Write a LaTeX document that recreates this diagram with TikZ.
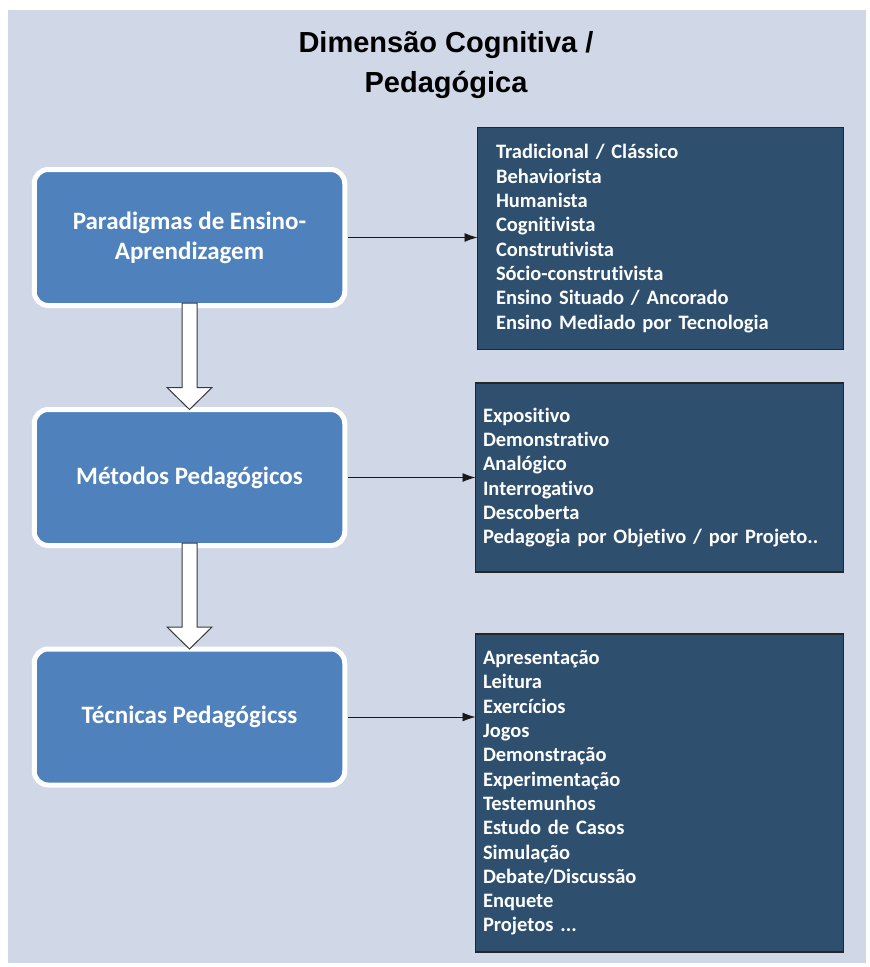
\documentclass[tikz,border=0pt]{standalone}
\usepackage{fontspec}
\setmainfont{Carlito}[Ligatures=NoCommon]
\newfontfamily\headfont{Liberation Sans}
\usetikzlibrary{arrows.meta,calc}
\definecolor{panelbg}{HTML}{D0D8E8}
\definecolor{stageblue}{HTML}{4F81BD}
\definecolor{listnavy}{HTML}{2E4F6E}
\definecolor{arrowedge}{HTML}{3A3A3A}

\begin{document}
\begin{tikzpicture}[x=1pt,y=-1pt,
  heading/.style={align=center, inner sep=0pt, text=black,
    font=\headfont\bfseries\fontsize{29}{40}\selectfont},
  stage/.style={rectangle, rounded corners=14pt, fill=stageblue, draw=white,
    line width=5pt, minimum width=310.5pt, minimum height=136pt,
    outer sep=0pt, inner sep=0pt, text=white, align=center,
    font=\bfseries\fontsize{25}{30}\selectfont},
  itemlist/.style={rectangle, fill=listnavy, draw=black!85, line width=1.2pt,
    outer sep=0pt, inner ysep=0pt, text=white, align=left,
    font=\bfseries\fontsize{20.5}{24.3}\selectfont},
  hollow/.style={fill=white, draw=arrowedge, line width=1pt, line join=miter},
  link/.style={draw=black!90, line width=0.9pt, -{Latex[length=13pt,width=9pt]}}
]
\useasboundingbox (0,0) rectangle (870,967);
% background panel
\fill[panelbg] (8,10) rectangle (866,963);

% heading (base anchor sits on the last line)
\node[heading, anchor=base] (title) at (446,92) {Dimensão Cognitiva /\\Pedagógica};

% the three stages
\node[stage] (p1) at (189.5,237.5) {Paradigmas de Ensino-\\Aprendizagem};
\node[stage] (p2) at (189.5,477.5) {Métodos Pedagógicos};
\node[stage] (p3) at (189.5,717) {Técnicas Pedagógicss};

% lists
\node[itemlist, minimum width=366pt, minimum height=222pt, inner xsep=18.5pt,
  text width=329pt] (l1) at (660.5,238.5)
  {Tradicional / Clássico\\Behaviorista\\Humanista\\Cognitivista\\Construtivista\\Sócio-construtivista\\Ensino Situado / Ancorado\\Ensino Mediado por Tecnologia};
\node[itemlist, minimum width=368pt, minimum height=189pt, inner xsep=7.5pt,
  text width=353pt] (l2) at (659.5,477.5)
  {Expositivo\\Demonstrativo\\Analógico\\Interrogativo\\Descoberta\\Pedagogia por Objetivo / por Projeto..};
\node[itemlist, minimum width=368pt, minimum height=318pt, inner xsep=7.5pt,
  text width=353pt] (l3) at (659.5,793)
  {Apresentação\\Leitura\\Exercícios\\Jogos\\Demonstração\\Experimentação\\Testemunhos\\Estudo de Casos\\Simulação\\Debate/Discussão\\Enquete\\Projetos ...};

% hollow block arrows between stages
\coordinate (h1) at ($(p1.south)+(0,-2.5)$);
\draw[hollow] ($(h1)+(-7.5,0)$) -- ($(p2.north)+(-7.5,-22)$) -- ($(p2.north)+(-22.5,-22)$)
  -- (p2.north) -- ($(p2.north)+(22.5,-22)$) -- ($(p2.north)+(7.5,-22)$)
  -- ($(h1)+(7.5,0)$) -- cycle;
\coordinate (h2) at ($(p2.south)+(0,-2.5)$);
\draw[hollow] ($(h2)+(-7.5,0)$) -- ($(p3.north)+(-7.5,-22)$) -- ($(p3.north)+(-22.5,-22)$)
  -- (p3.north) -- ($(p3.north)+(22.5,-22)$) -- ($(p3.north)+(7.5,-22)$)
  -- ($(h2)+(7.5,0)$) -- cycle;

% links from stages to lists
\draw[link] ($(p1.east)+(3.5,0)$) -- (p1.east -| l1.west);
\draw[link] ($(p2.east)+(3.5,0)$) -- (p2.east -| l2.west);
\draw[link] ($(p3.east)+(3.5,0)$) -- (p3.east -| l3.west);
\end{tikzpicture}
\end{document}
